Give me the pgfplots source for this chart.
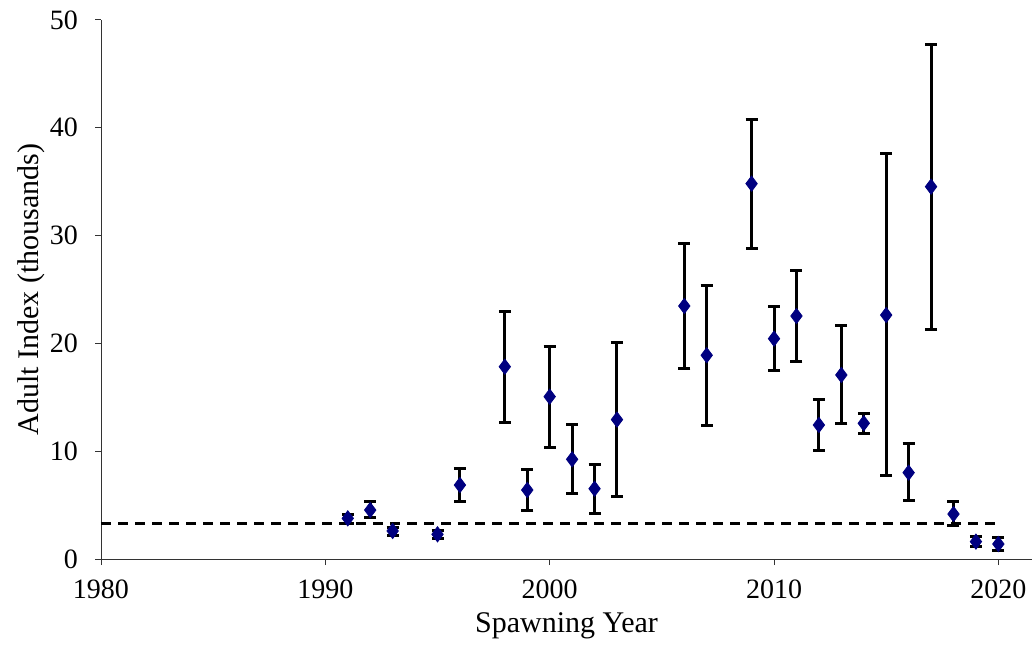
\documentclass[border=0pt]{standalone}
\usepackage{pgfplots}
\usepackage{pgfplotstable}
\pgfplotsset{compat=1.18}
\usepackage{fontspec}
\setmainfont{Liberation Serif}
\definecolor{navy}{RGB}{0,0,128}

% year, index, error plus, error minus
\pgfplotstableread{
x     y      ep     em
1991  3.77   0.40   0.47
1992  4.54   0.75   0.68
1993  2.60   0.34   0.40
1995  2.29   0.34   0.37
1996  6.86   1.55   1.48
1998  17.84  5.10   5.14
1999  6.40   1.92   1.89
2000  15.06  4.67   4.70
2001  9.25   3.24   3.22
2002  6.52   2.29   2.28
2003  12.93  7.17   7.12
2006  23.47  5.81   5.78
2007  18.90  6.46   6.50
2009  34.82  5.97   6.00
2010  20.44  2.97   2.94
2011  22.54  4.21   4.24
2012  12.43  2.41   2.35
2013  17.07  4.57   4.48
2014  12.59  0.93   0.99
2015  22.63  14.97  14.90
2016  8.01   2.72   2.60
2017  34.54  13.23  13.24
2018  4.17   1.15   1.08
2019  1.61   0.52   0.47
2020  1.39   0.62   0.62
}\adult

\begin{document}
\begin{tikzpicture}
  \begin{axis}[
      scale only axis,
      width=465.5bp,
      height=269.5bp,
      axis lines=left,
      axis line style={-, line width=0.5bp, black!80},
      xmin=1980, xmax=2021.5,
      ymin=0, ymax=50,
      xtick={1980,1990,2000,2010,2020},
      ytick={0,10,20,30,40,50},
      tick align=outside,
      major tick length=3bp,
      tick style={line width=0.5bp, black!80},
      /pgf/number format/1000 sep={},
      /pgf/number format/assume math mode=true,
      ticklabel style={font=\fontsize{14bp}{16bp}\selectfont},
      xticklabel style={yshift=-4bp},
      yticklabel style={xshift=-5bp},
      xlabel={Spawning Year},
      ylabel={Adult Index (thousands)},
      label style={font=\fontsize{15bp}{17bp}\selectfont},
      ylabel style={yshift=-4.5bp},
      clip=false,
    ]
    \addplot[black, dashed, line width=1.2bp, dash pattern=on 5bp off 3.5bp]
      coordinates {(1980,3.3) (2020,3.3)};
    \addplot[
      only marks,
      mark=diamond*,
      mark size=3.8bp,
      mark options={fill=navy, draw=navy},
      error bars/.cd,
        y dir=both, y explicit,
        error bar style={line width=1.5bp, black},
        error mark options={rotate=90, mark size=3bp, line width=1.5bp, black},
    ] table[x=x, y=y, y error plus=ep, y error minus=em] {\adult};
  \end{axis}
  \pgfresetboundingbox
  \path[use as bounding box]
    ([shift={(-50.5bp,-44.5bp)}]current axis.south west)
    rectangle ([shift={(1bp,10bp)}]current axis.north east);
\end{tikzpicture}
\end{document}
